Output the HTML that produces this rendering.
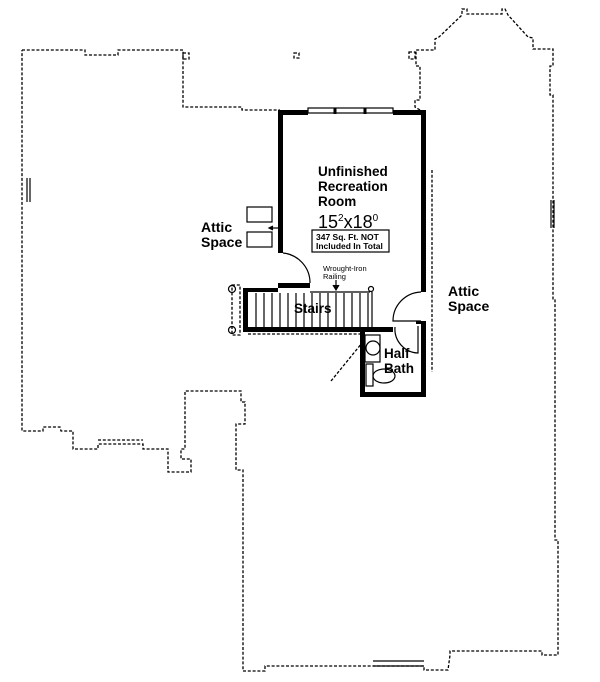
<!DOCTYPE html>
<html><head><meta charset="utf-8"><style>
html,body{margin:0;padding:0;background:#fff}
svg{display:block}
text{font-family:"Liberation Sans",Arial,sans-serif;fill:#000}
.b{font-weight:bold}
</style></head><body>
<svg width="600" height="682" viewBox="0 0 600 682" xmlns="http://www.w3.org/2000/svg">
<g fill="none" stroke="#000" stroke-width="1.3" stroke-dasharray="3 1.8">
<path d="M22 50 H85 V55 H118 V50 H183 V107 H242 V110 H280
M420 110 L415 107 V100 H420 V66 H416 V50 H435 V39 L439 37 L462 15 V9 H467 V14 H502 V9 H505 L508 15 L528 37 L533 38 V49 H553 V66 H550 V95 H553 V300 H555 V540 H558 V655 H542 V651 H450 V655 L448 670 H424 V666 H265 V671 H243 V470 H236 V424 H245 V402 H241 V391 H185 V449 H181 V459 H191 V472 H168 V449 H143 V444 H98 V449 H73 V431 H61 L60 427 H43 V431 H22 V50"/>
<rect x="183" y="53" width="6" height="6"/>
<rect x="294" y="53" width="5" height="5"/>
<rect x="409" y="52" width="6" height="7"/>
<path d="M98 440 H143"/>
<path d="M432 170 V372"/>
<path d="M331 381 L362 343"/>
<path d="M232 285 H240 V335 H232 Z"/>
<path d="M248 334 H360"/>
</g>
<g stroke="#000" stroke-width="1.2">
<path d="M27 178 V202 M30 178 V202"/>
<path d="M551 200 V228 M554 200 V228"/>
<path d="M373 661 H424 M373 666 H424"/>
</g>
<g fill="#000">
<rect x="278" y="110" width="5" height="143"/>
<rect x="278" y="110" width="30" height="5"/>
<rect x="393" y="110" width="33" height="5"/>
<rect x="421" y="110" width="5" height="182"/>
<rect x="421" y="321" width="5" height="76"/>
<rect x="360" y="392" width="66" height="5"/>
<rect x="360" y="327" width="5" height="70"/>
<rect x="243" y="327" width="150" height="5"/>
<rect x="243" y="288" width="5" height="44"/>
<rect x="243" y="288" width="35" height="4"/>
<rect x="278" y="283" width="32" height="5"/>
<rect x="416" y="321" width="10" height="3"/>
</g>
<g fill="none" stroke="#000" stroke-width="1.2">
<rect x="308" y="108" width="85" height="5"/>
<path d="M335 108 V114 M365 108 V114" stroke-width="3"/>
<path d="M283 253 A30 30 0 0 1 310 283"/>
<path d="M421 292 A29 29 0 0 0 393 321 H421"/>
<path d="M395 327 A24 24 0 0 0 418 353 V326"/>
<path d="M310 292 H370"/>
<circle cx="371" cy="289" r="2.5"/>
<circle cx="232" cy="289" r="3.5"/>
<circle cx="232" cy="330" r="3.5"/>
<path d="M256 293 V327 M264 293 V327 M272 293 V327 M280 293 V327 M288 293 V327 M296 293 V327 M304 293 V327 M312 293 V327 M320 293 V327 M328 293 V327 M336 293 V327 M344 293 V327 M352 293 V327 M360 293 V327 M368 293 V327"/>
<path d="M372 292 V327"/>
<path d="M336 280 V289"/>
<path d="M333 285 L336 290 L339 285" fill="#000"/>
<rect x="247" y="207" width="25" height="15"/>
<rect x="247" y="232" width="25" height="15"/>
<path d="M278 228 H270"/>
<path d="M273 226 L269 228 L273 230" fill="#000"/>
<rect x="365" y="335" width="15" height="27"/>
<circle cx="373" cy="348" r="7"/>
<rect x="366" y="364" width="7" height="22"/>
<ellipse cx="384" cy="376" rx="11" ry="7"/>
<rect x="312" y="230" width="77" height="22"/>
</g>
<text class="b" x="318" y="176" font-size="13.5">Unfinished</text>
<text class="b" x="318" y="191" font-size="13.5">Recreation</text>
<text class="b" x="318" y="206" font-size="13.5">Room</text>
<text x="318" y="228" font-size="18">15<tspan font-size="10" dy="-7">2</tspan><tspan dy="7">x18</tspan><tspan font-size="10" dy="-7">0</tspan></text>
<text class="b" x="316" y="240" font-size="8.5">347 Sq. Ft. NOT</text>
<text class="b" x="316" y="249" font-size="8.5">Included In Total</text>
<text class="b" x="201" y="232" font-size="14">Attic</text>
<text class="b" x="201" y="247" font-size="14">Space</text>
<text class="b" x="448" y="296" font-size="14">Attic</text>
<text class="b" x="448" y="311" font-size="14">Space</text>
<text x="323" y="271" font-size="7.5">Wrought-Iron</text>
<text x="323" y="279" font-size="7.5">Railing</text>
<text class="b" x="294" y="313" font-size="13.5">Stairs</text>
<text class="b" x="384" y="358" font-size="13.5">Half</text>
<text class="b" x="384" y="373" font-size="13.5">Bath</text>
</svg>
</body></html>
